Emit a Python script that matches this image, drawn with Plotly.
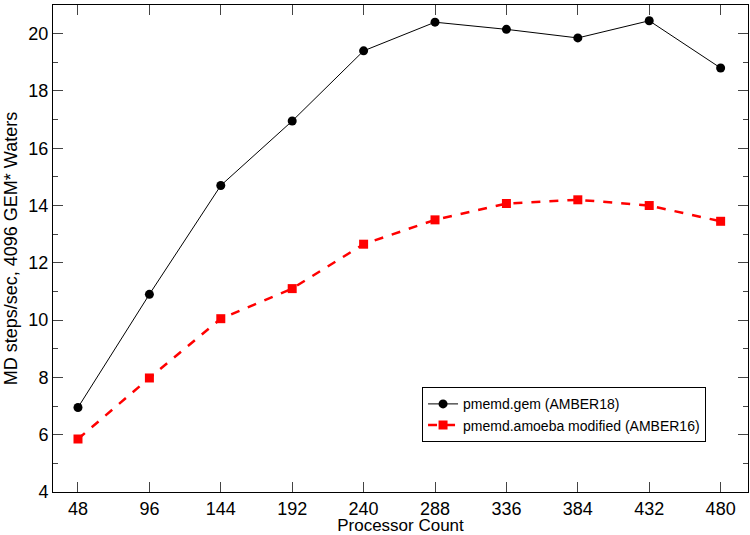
import plotly.graph_objects as go

procs = [48, 96, 144, 192, 240, 288, 336, 384, 432, 480]
gem = [6.95, 10.9, 14.7, 16.95, 19.4, 20.4, 20.15, 19.85, 20.45, 18.8]
amoeba = [5.85, 7.98, 10.05, 11.1, 12.65, 13.5, 14.07, 14.2, 14.0, 13.45]
xticks = procs
yticks = [4, 6, 8, 10, 12, 14, 16, 18, 20]

fig = go.Figure()
fig.add_trace(go.Scatter(x=procs, y=gem, mode="lines+markers", name="pmemd.gem (AMBER18)",
                         line=dict(color="black", width=1),
                         marker=dict(symbol="circle", size=9, color="black")))
fig.add_trace(go.Scatter(x=procs, y=amoeba, mode="lines+markers", name="pmemd.amoeba modified (AMBER16)",
                         line=dict(color="#ff0000", width=2.5, dash="dash"),
                         marker=dict(symbol="square", size=9, color="#ff0000")))

font = "Liberation Sans, Arial, sans-serif"
fig.update_layout(
    width=750, height=535,
    margin=dict(l=53, r=2, t=5, b=43),
    paper_bgcolor="white", plot_bgcolor="white",
    font=dict(family=font, size=18, color="black"),
    showlegend=True,
    legend=dict(x=0.531, y=0.215, xanchor="left", yanchor="top",
                bgcolor="white", bordercolor="black", borderwidth=1,
                font=dict(size=14), tracegroupgap=0),
)
fig.update_xaxes(range=[31.2, 498.4], tickvals=xticks, ticks="inside", ticklen=10,
                 showline=True, linecolor="black", linewidth=1, mirror="ticks",
                 showgrid=False, zeroline=False, automargin=False,
                 title=dict(text="Processor Count", standoff=3, font=dict(size=17)))
fig.update_yaxes(range=[4, 21], tickvals=yticks, ticks="inside", ticklen=10,
                 showline=True, linecolor="black", linewidth=1, mirror="ticks",
                 showgrid=False, zeroline=False, automargin=False,
                 minor=dict(dtick=1, ticks="inside", ticklen=5, tick0=4),
                 title=dict(text="MD steps/sec, 4096 GEM* Waters", standoff=6, font=dict(size=18)))

fig.write_html("out.html", config={"displayModeBar": False},
               post_script="document.body.style.margin='0';document.body.style.overflow='hidden';")
